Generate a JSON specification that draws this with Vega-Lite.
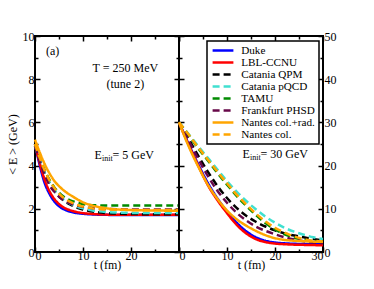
{
"$schema": "https://vega.github.io/schema/vega-lite/v6.json",
"background": "white",
"padding": {"left": 5, "top": 29, "right": 4, "bottom": 4},
"spacing": 0,
"bounds": "flush",
"config": {
  "font": "Liberation Serif",
  "view": {"stroke": "black", "strokeWidth": 2},
  "axis": {"grid": false, "domain": false, "labelFont": "Liberation Serif", "labelFontSize": 12, "labelColor": "black", "titleFont": "Liberation Serif", "titleFontSize": 12, "titleFontWeight": "normal", "titleColor": "black", "tickColor": "black", "tickWidth": 1.5, "labelPadding": 3},
  "legend": {"strokeWidth": 1.5},
  "line": {"strokeWidth": 2.5, "interpolate": "monotone"},
  "text": {"font": "Liberation Serif", "fontSize": 12, "color": "black"}
},
"resolve": {"scale": {"x": "independent", "y": "independent"}, "legend": {"color": "independent", "strokeDash": "independent"}},
"datasets": {
 "a": [
  {"model":"Duke","t":0,"E":5.0},{"model":"Duke","t":1,"E":4.0},{"model":"Duke","t":2,"E":3.2},{"model":"Duke","t":3,"E":2.7},{"model":"Duke","t":4,"E":2.35},{"model":"Duke","t":5,"E":2.12},{"model":"Duke","t":6,"E":1.98},{"model":"Duke","t":8,"E":1.83},{"model":"Duke","t":10,"E":1.77},{"model":"Duke","t":12,"E":1.74},{"model":"Duke","t":15,"E":1.72},{"model":"Duke","t":20,"E":1.71},{"model":"Duke","t":25,"E":1.71},{"model":"Duke","t":30,"E":1.71},
  {"model":"LBL-CCNU","t":0,"E":5.0},{"model":"LBL-CCNU","t":1,"E":4.1},{"model":"LBL-CCNU","t":2,"E":3.35},{"model":"LBL-CCNU","t":3,"E":2.82},{"model":"LBL-CCNU","t":4,"E":2.46},{"model":"LBL-CCNU","t":5,"E":2.22},{"model":"LBL-CCNU","t":6,"E":2.06},{"model":"LBL-CCNU","t":8,"E":1.89},{"model":"LBL-CCNU","t":10,"E":1.8},{"model":"LBL-CCNU","t":12,"E":1.76},{"model":"LBL-CCNU","t":15,"E":1.73},{"model":"LBL-CCNU","t":20,"E":1.72},{"model":"LBL-CCNU","t":25,"E":1.72},{"model":"LBL-CCNU","t":30,"E":1.72},
  {"model":"Catania QPM","t":0,"E":4.9},{"model":"Catania QPM","t":1,"E":4.25},{"model":"Catania QPM","t":2,"E":3.68},{"model":"Catania QPM","t":3,"E":3.2},{"model":"Catania QPM","t":4,"E":2.85},{"model":"Catania QPM","t":5,"E":2.58},{"model":"Catania QPM","t":6,"E":2.38},{"model":"Catania QPM","t":8,"E":2.12},{"model":"Catania QPM","t":10,"E":1.96},{"model":"Catania QPM","t":12,"E":1.87},{"model":"Catania QPM","t":15,"E":1.8},{"model":"Catania QPM","t":20,"E":1.76},{"model":"Catania QPM","t":25,"E":1.75},{"model":"Catania QPM","t":30,"E":1.75},
  {"model":"Catania pQCD","t":0,"E":4.9},{"model":"Catania pQCD","t":1,"E":4.25},{"model":"Catania pQCD","t":2,"E":3.68},{"model":"Catania pQCD","t":3,"E":3.22},{"model":"Catania pQCD","t":4,"E":2.88},{"model":"Catania pQCD","t":5,"E":2.62},{"model":"Catania pQCD","t":6,"E":2.42},{"model":"Catania pQCD","t":8,"E":2.17},{"model":"Catania pQCD","t":10,"E":2.02},{"model":"Catania pQCD","t":12,"E":1.92},{"model":"Catania pQCD","t":15,"E":1.85},{"model":"Catania pQCD","t":20,"E":1.81},{"model":"Catania pQCD","t":25,"E":1.8},{"model":"Catania pQCD","t":30,"E":1.8},
  {"model":"TAMU","t":0,"E":5.0},{"model":"TAMU","t":1,"E":4.35},{"model":"TAMU","t":2,"E":3.8},{"model":"TAMU","t":3,"E":3.35},{"model":"TAMU","t":4,"E":3.0},{"model":"TAMU","t":5,"E":2.75},{"model":"TAMU","t":6,"E":2.56},{"model":"TAMU","t":8,"E":2.34},{"model":"TAMU","t":10,"E":2.22},{"model":"TAMU","t":12,"E":2.17},{"model":"TAMU","t":15,"E":2.15},{"model":"TAMU","t":20,"E":2.15},{"model":"TAMU","t":25,"E":2.15},{"model":"TAMU","t":30,"E":2.15},
  {"model":"Frankfurt PHSD","t":0,"E":4.9},{"model":"Frankfurt PHSD","t":1,"E":4.2},{"model":"Frankfurt PHSD","t":2,"E":3.6},{"model":"Frankfurt PHSD","t":3,"E":3.1},{"model":"Frankfurt PHSD","t":4,"E":2.8},{"model":"Frankfurt PHSD","t":5,"E":2.56},{"model":"Frankfurt PHSD","t":6,"E":2.4},{"model":"Frankfurt PHSD","t":8,"E":2.2},{"model":"Frankfurt PHSD","t":10,"E":2.09},{"model":"Frankfurt PHSD","t":12,"E":2.03},{"model":"Frankfurt PHSD","t":15,"E":1.99},{"model":"Frankfurt PHSD","t":20,"E":1.97},{"model":"Frankfurt PHSD","t":25,"E":1.97},{"model":"Frankfurt PHSD","t":30,"E":1.97},
  {"model":"Nantes col.+rad.","t":0,"E":5.2},{"model":"Nantes col.+rad.","t":1,"E":4.6},{"model":"Nantes col.+rad.","t":2,"E":4.08},{"model":"Nantes col.+rad.","t":3,"E":3.65},{"model":"Nantes col.+rad.","t":4,"E":3.3},{"model":"Nantes col.+rad.","t":5,"E":3.05},{"model":"Nantes col.+rad.","t":6,"E":2.85},{"model":"Nantes col.+rad.","t":8,"E":2.55},{"model":"Nantes col.+rad.","t":10,"E":2.3},{"model":"Nantes col.+rad.","t":12,"E":2.15},{"model":"Nantes col.+rad.","t":15,"E":2.02},{"model":"Nantes col.+rad.","t":20,"E":1.94},{"model":"Nantes col.+rad.","t":25,"E":1.92},{"model":"Nantes col.+rad.","t":30,"E":1.91},
  {"model":"Nantes col.","t":0,"E":5.0},{"model":"Nantes col.","t":1,"E":4.35},{"model":"Nantes col.","t":2,"E":3.78},{"model":"Nantes col.","t":3,"E":3.33},{"model":"Nantes col.","t":4,"E":2.98},{"model":"Nantes col.","t":5,"E":2.7},{"model":"Nantes col.","t":6,"E":2.5},{"model":"Nantes col.","t":8,"E":2.25},{"model":"Nantes col.","t":10,"E":2.1},{"model":"Nantes col.","t":12,"E":2.02},{"model":"Nantes col.","t":15,"E":1.97},{"model":"Nantes col.","t":20,"E":1.95},{"model":"Nantes col.","t":25,"E":1.94},{"model":"Nantes col.","t":30,"E":1.94}
 ],
 "b": [
  {"model":"Duke","t":0,"E":30},{"model":"Duke","t":2,"E":25},{"model":"Duke","t":4,"E":20.3},{"model":"Duke","t":6,"E":16},{"model":"Duke","t":8,"E":12.4},{"model":"Duke","t":10,"E":9.4},{"model":"Duke","t":12,"E":6.8},{"model":"Duke","t":14,"E":4.8},{"model":"Duke","t":16,"E":3.4},{"model":"Duke","t":18,"E":2.6},{"model":"Duke","t":20,"E":2.2},{"model":"Duke","t":22,"E":2.0},{"model":"Duke","t":24,"E":1.9},{"model":"Duke","t":26,"E":1.85},{"model":"Duke","t":28,"E":1.8},{"model":"Duke","t":30,"E":1.8},
  {"model":"LBL-CCNU","t":0,"E":30},{"model":"LBL-CCNU","t":2,"E":24.8},{"model":"LBL-CCNU","t":4,"E":20},{"model":"LBL-CCNU","t":6,"E":15.5},{"model":"LBL-CCNU","t":8,"E":12},{"model":"LBL-CCNU","t":10,"E":9},{"model":"LBL-CCNU","t":12,"E":6.3},{"model":"LBL-CCNU","t":14,"E":4.3},{"model":"LBL-CCNU","t":16,"E":3.0},{"model":"LBL-CCNU","t":18,"E":2.3},{"model":"LBL-CCNU","t":20,"E":1.95},{"model":"LBL-CCNU","t":22,"E":1.8},{"model":"LBL-CCNU","t":24,"E":1.7},{"model":"LBL-CCNU","t":26,"E":1.65},{"model":"LBL-CCNU","t":28,"E":1.6},{"model":"LBL-CCNU","t":30,"E":1.55},
  {"model":"Catania QPM","t":0,"E":30},{"model":"Catania QPM","t":2,"E":26.2},{"model":"Catania QPM","t":4,"E":22.3},{"model":"Catania QPM","t":6,"E":18.6},{"model":"Catania QPM","t":8,"E":15.3},{"model":"Catania QPM","t":10,"E":12.5},{"model":"Catania QPM","t":12,"E":10.2},{"model":"Catania QPM","t":14,"E":8.4},{"model":"Catania QPM","t":16,"E":7.0},{"model":"Catania QPM","t":18,"E":5.9},{"model":"Catania QPM","t":20,"E":5.0},{"model":"Catania QPM","t":22,"E":4.3},{"model":"Catania QPM","t":24,"E":3.8},{"model":"Catania QPM","t":26,"E":3.4},{"model":"Catania QPM","t":28,"E":3.0},{"model":"Catania QPM","t":30,"E":2.7},
  {"model":"Catania pQCD","t":0,"E":30},{"model":"Catania pQCD","t":2,"E":27.3},{"model":"Catania pQCD","t":4,"E":24.5},{"model":"Catania pQCD","t":6,"E":21.8},{"model":"Catania pQCD","t":8,"E":19.1},{"model":"Catania pQCD","t":10,"E":16.4},{"model":"Catania pQCD","t":12,"E":14},{"model":"Catania pQCD","t":14,"E":11.8},{"model":"Catania pQCD","t":16,"E":9.9},{"model":"Catania pQCD","t":18,"E":8.2},{"model":"Catania pQCD","t":20,"E":6.8},{"model":"Catania pQCD","t":22,"E":5.6},{"model":"Catania pQCD","t":24,"E":4.7},{"model":"Catania pQCD","t":26,"E":4.0},{"model":"Catania pQCD","t":28,"E":3.4},{"model":"Catania pQCD","t":30,"E":3.0},
  {"model":"TAMU","t":0,"E":30},{"model":"TAMU","t":2,"E":27},{"model":"TAMU","t":4,"E":24},{"model":"TAMU","t":6,"E":21.2},{"model":"TAMU","t":8,"E":18.3},{"model":"TAMU","t":10,"E":15.6},{"model":"TAMU","t":12,"E":13},{"model":"TAMU","t":14,"E":10.7},{"model":"TAMU","t":16,"E":8.6},{"model":"TAMU","t":18,"E":6.7},{"model":"TAMU","t":20,"E":5.2},{"model":"TAMU","t":22,"E":4.1},{"model":"TAMU","t":24,"E":3.3},{"model":"TAMU","t":26,"E":2.8},{"model":"TAMU","t":28,"E":2.5},{"model":"TAMU","t":30,"E":2.3},
  {"model":"Frankfurt PHSD","t":0,"E":30},{"model":"Frankfurt PHSD","t":2,"E":25.8},{"model":"Frankfurt PHSD","t":4,"E":21.6},{"model":"Frankfurt PHSD","t":6,"E":17.6},{"model":"Frankfurt PHSD","t":8,"E":14.2},{"model":"Frankfurt PHSD","t":10,"E":11.4},{"model":"Frankfurt PHSD","t":12,"E":9.1},{"model":"Frankfurt PHSD","t":14,"E":7.3},{"model":"Frankfurt PHSD","t":16,"E":5.9},{"model":"Frankfurt PHSD","t":18,"E":4.9},{"model":"Frankfurt PHSD","t":20,"E":4.1},{"model":"Frankfurt PHSD","t":22,"E":3.4},{"model":"Frankfurt PHSD","t":24,"E":2.9},{"model":"Frankfurt PHSD","t":26,"E":2.5},{"model":"Frankfurt PHSD","t":28,"E":2.2},{"model":"Frankfurt PHSD","t":30,"E":2.0},
  {"model":"Nantes col.+rad.","t":0,"E":30},{"model":"Nantes col.+rad.","t":2,"E":24.5},{"model":"Nantes col.+rad.","t":4,"E":19.8},{"model":"Nantes col.+rad.","t":6,"E":15.6},{"model":"Nantes col.+rad.","t":8,"E":12.3},{"model":"Nantes col.+rad.","t":10,"E":9.6},{"model":"Nantes col.+rad.","t":12,"E":7.6},{"model":"Nantes col.+rad.","t":14,"E":6.1},{"model":"Nantes col.+rad.","t":16,"E":4.9},{"model":"Nantes col.+rad.","t":18,"E":3.9},{"model":"Nantes col.+rad.","t":20,"E":3.2},{"model":"Nantes col.+rad.","t":22,"E":2.8},{"model":"Nantes col.+rad.","t":24,"E":2.6},{"model":"Nantes col.+rad.","t":26,"E":2.5},{"model":"Nantes col.+rad.","t":28,"E":2.4},{"model":"Nantes col.+rad.","t":30,"E":2.35},
  {"model":"Nantes col.","t":0,"E":30},{"model":"Nantes col.","t":2,"E":27.2},{"model":"Nantes col.","t":4,"E":24.2},{"model":"Nantes col.","t":6,"E":21.4},{"model":"Nantes col.","t":8,"E":18.6},{"model":"Nantes col.","t":10,"E":15.9},{"model":"Nantes col.","t":12,"E":13.3},{"model":"Nantes col.","t":14,"E":11},{"model":"Nantes col.","t":16,"E":8.9},{"model":"Nantes col.","t":18,"E":7.1},{"model":"Nantes col.","t":20,"E":5.6},{"model":"Nantes col.","t":22,"E":4.5},{"model":"Nantes col.","t":24,"E":3.6},{"model":"Nantes col.","t":26,"E":3.0},{"model":"Nantes col.","t":28,"E":2.6},{"model":"Nantes col.","t":30,"E":2.4}
 ]
},
"hconcat": [
 {
  "width": 144, "height": 216,
  "resolve": {"axis": {"x": "independent", "y": "independent"}},
  "layer": [
   {
    "data": {"name": "a"},
    "mark": {"type": "line"},
    "encoding": {
     "x": {"field": "t", "type": "quantitative", "scale": {"domain": [0, 30], "nice": false},
       "axis": {"orient": "bottom", "values": [0,5,10,15,20,25,30], "labelExpr": "datum.value % 10 === 0 && datum.value < 30 ? datum.label : ''", "tickSize": {"condition": {"test": "datum.value % 10 === 0", "value": -5}, "value": -3}, "title": "t (fm)", "titlePadding": -2}},
     "y": {"field": "E", "type": "quantitative", "scale": {"domain": [0, 10], "nice": false},
       "axis": {"orient": "left", "values": [0,1,2,3,4,5,6,7,8,9,10], "labelExpr": "datum.value % 2 === 0 ? datum.label : ''", "tickSize": {"condition": {"test": "datum.value % 2 === 0", "value": -5}, "value": -3}, "labelPadding": 6, "title": "< E > (GeV)", "titlePadding": 3}},
     "color": {"field": "model", "type": "nominal", "legend": null,
       "scale": {"domain": ["Duke","LBL-CCNU","Catania QPM","Catania pQCD","TAMU","Frankfurt PHSD","Nantes col.+rad.","Nantes col."], "range": ["#0000ff","#ff0000","#000000","#40e0d0","#008b00","#670748","#ffa500","#ffa500"]}},
     "strokeDash": {"field": "model", "type": "nominal", "legend": null,
       "scale": {"domain": ["Duke","LBL-CCNU","Catania QPM","Catania pQCD","TAMU","Frankfurt PHSD","Nantes col.+rad.","Nantes col."], "range": [[1,0],[1,0],[7,4],[7,4],[7,4],[7,4],[1,0],[7,4]]}}
    }
   },
   {
    "data": {"name": "a"},
    "mark": {"type": "line", "opacity": 0},
    "encoding": {
     "x": {"field": "t", "type": "quantitative", "scale": {"domain": [0, 30], "nice": false},
       "axis": {"orient": "top", "values": [0,5,10,15,20,25,30], "labels": false, "title": null, "tickSize": {"condition": {"test": "datum.value % 10 === 0", "value": -5}, "value": -3}}},
     "y": {"field": "E", "type": "quantitative", "scale": {"domain": [0, 10], "nice": false},
       "axis": {"orient": "right", "values": [0,1,2,3,4,5,6,7,8,9,10], "labels": false, "title": null, "tickSize": {"condition": {"test": "datum.value % 2 === 0", "value": -5}, "value": -3}}}
    }
   },
   {
    "data": {"values": [{"t": 2.3, "E": 9.3, "label": "(a)"}, {"t": 12.0, "E": 8.5, "label": "T = 250 MeV"}, {"t": 14.9, "E": 7.77, "label": "(tune 2)"}, {"t": 12.4, "E": 4.5, "label": "E"}]},
    "mark": {"type": "text", "align": "left", "baseline": "middle"},
    "encoding": {"x": {"field": "t", "type": "quantitative", "axis": null}, "y": {"field": "E", "type": "quantitative", "axis": null}, "text": {"field": "label"}}
   },
   {
    "data": {"values": [{"t": 12.4, "E": 4.5, "label": "init"}]},
    "mark": {"type": "text", "align": "left", "baseline": "middle", "fontSize": 8, "dx": 7.5, "dy": 4},
    "encoding": {"x": {"field": "t", "type": "quantitative", "axis": null}, "y": {"field": "E", "type": "quantitative", "axis": null}, "text": {"field": "label"}}
   },
   {
    "data": {"values": [{"t": 12.4, "E": 4.5, "label": " = 5 GeV"}]},
    "mark": {"type": "text", "align": "left", "baseline": "middle", "dx": 18},
    "encoding": {"x": {"field": "t", "type": "quantitative", "axis": null}, "y": {"field": "E", "type": "quantitative", "axis": null}, "text": {"field": "label"}}
   }
  ]
 },
 {
  "width": 144, "height": 216,
  "resolve": {"axis": {"x": "independent", "y": "independent"}},
  "layer": [
   {
    "data": {"name": "b"},
    "mark": {"type": "line"},
    "encoding": {
     "x": {"field": "t", "type": "quantitative", "scale": {"domain": [0, 30], "nice": false},
       "axis": {"orient": "bottom", "values": [0,5,10,15,20,25,30], "labelExpr": "datum.value % 10 === 0 ? datum.label : ''", "tickSize": {"condition": {"test": "datum.value % 10 === 0", "value": -5}, "value": -3}, "title": "t (fm)", "titlePadding": -2}},
     "y": {"field": "E", "type": "quantitative", "scale": {"domain": [0, 50], "nice": false},
       "axis": {"orient": "right", "values": [0,5,10,15,20,25,30,35,40,45,50], "labelExpr": "datum.value % 10 === 0 ? datum.label : ''", "tickSize": {"condition": {"test": "datum.value % 10 === 0", "value": -5}, "value": -3}, "labelPadding": 6, "title": null}},
     "color": {"field": "model", "type": "nominal",
       "scale": {"domain": ["Duke","LBL-CCNU","Catania QPM","Catania pQCD","TAMU","Frankfurt PHSD","Nantes col.+rad.","Nantes col."], "range": ["#0000ff","#ff0000","#000000","#40e0d0","#008b00","#670748","#ffa500","#ffa500"]},
       "legend": {"orient": "none", "legendX": 28, "legendY": 5, "title": null, "strokeColor": "black", "fillColor": "white", "padding": 4, "labelFont": "Liberation Serif", "labelFontSize": 11.2, "labelColor": "black", "symbolType": "M-1,0H4.2", "symbolSize": 64, "symbolStrokeWidth": 2.5, "labelOffset": 19, "rowPadding": 0}},
     "strokeDash": {"field": "model", "type": "nominal",
       "scale": {"domain": ["Duke","LBL-CCNU","Catania QPM","Catania pQCD","TAMU","Frankfurt PHSD","Nantes col.+rad.","Nantes col."], "range": [[1,0],[1,0],[7,4],[7,4],[7,4],[7,4],[1,0],[7,4]]},
       "legend": {"orient": "none", "legendX": 28, "legendY": 5, "title": null, "strokeColor": "black", "fillColor": "white", "padding": 4, "labelFont": "Liberation Serif", "labelFontSize": 11.2, "labelColor": "black", "symbolType": "M-1,0H4.2", "symbolSize": 64, "symbolStrokeWidth": 2.5, "labelOffset": 19, "rowPadding": 0}}
    }
   },
   {
    "data": {"name": "b"},
    "mark": {"type": "line", "opacity": 0},
    "encoding": {
     "x": {"field": "t", "type": "quantitative", "scale": {"domain": [0, 30], "nice": false},
       "axis": {"orient": "top", "values": [0,5,10,15,20,25,30], "labels": false, "title": null, "tickSize": {"condition": {"test": "datum.value % 10 === 0", "value": -5}, "value": -3}}},
     "y": {"field": "E", "type": "quantitative", "scale": {"domain": [0, 50], "nice": false},
       "axis": {"orient": "left", "values": [0,5,10,15,20,25,30,35,40,45,50], "labels": false, "title": null, "tickSize": {"condition": {"test": "datum.value % 10 === 0", "value": -5}, "value": -3}}}
    }
   },
   {
    "data": {"values": [{"t": 13.25, "E": 22.8, "label": "E"}]},
    "mark": {"type": "text", "align": "left", "baseline": "middle"},
    "encoding": {"x": {"field": "t", "type": "quantitative", "axis": null}, "y": {"field": "E", "type": "quantitative", "axis": null}, "text": {"field": "label"}}
   },
   {
    "data": {"values": [{"t": 13.25, "E": 22.8, "label": "init"}]},
    "mark": {"type": "text", "align": "left", "baseline": "middle", "fontSize": 8, "dx": 7.5, "dy": 4},
    "encoding": {"x": {"field": "t", "type": "quantitative", "axis": null}, "y": {"field": "E", "type": "quantitative", "axis": null}, "text": {"field": "label"}}
   },
   {
    "data": {"values": [{"t": 13.25, "E": 22.8, "label": " = 30 GeV"}]},
    "mark": {"type": "text", "align": "left", "baseline": "middle", "dx": 18},
    "encoding": {"x": {"field": "t", "type": "quantitative", "axis": null}, "y": {"field": "E", "type": "quantitative", "axis": null}, "text": {"field": "label"}}
   }
  ]
 }
]
}
